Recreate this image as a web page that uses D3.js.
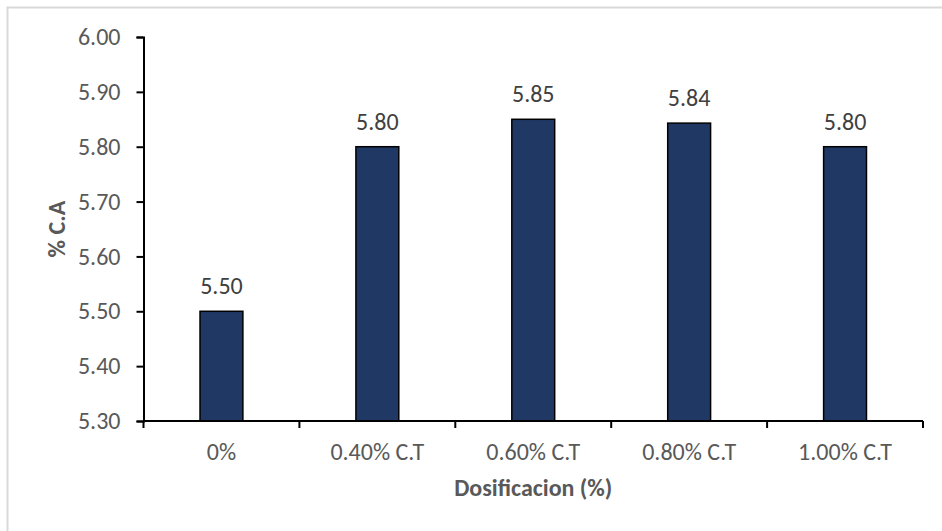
<!DOCTYPE html>
<html>
<head>
<meta charset="utf-8">
<script src="https://cdn.jsdelivr.net/npm/d3@7"></script>
<style>
  body { margin: 0; background: #fff; }
  text { font-family: Calibri, Carlito, Lato, "Open Sans", sans-serif; }
</style>
</head>
<body>
<div id="chart"></div>
<script>
// data
var categories = ["0%", "0.40% C.T", "0.60% C.T", "0.80% C.T", "1.00% C.T"];
var values = [5.50, 5.80, 5.85, 5.843, 5.80];
var valueLabels = ["5.50", "5.80", "5.85", "5.84", "5.80"];
var yTicks = [5.30, 5.40, 5.50, 5.60, 5.70, 5.80, 5.90, 6.00];

var svgWidth = 942;
var svgHeight = 531;
var margin = { top: 37, right: 19, bottom: 110, left: 143.5 };
var width = svgWidth - margin.left - margin.right;
var height = svgHeight - margin.top - margin.bottom;
var fontSize = "24px";

var svg = d3.select("#chart")
    .append("svg")
    .attr("width", svgWidth)
    .attr("height", svgHeight);

// outer chart border
svg.append("rect")
    .attr("x", 7.5)
    .attr("y", 7.5)
    .attr("width", 950)
    .attr("height", 550)
    .attr("fill", "none")
    .attr("stroke", "#d9d9d9")
    .attr("stroke-width", 2);

var chartGroup = svg.append("g")
    .attr("transform", `translate(${margin.left}, ${margin.top})`);

var xScale = d3.scaleBand()
    .domain(categories)
    .range([0, width])
    .paddingInner(0.725)
    .paddingOuter(0.3625);

var yScale = d3.scaleLinear()
    .domain([5.30, 6.00])
    .range([height, 0]);

// bars
chartGroup.selectAll("rect.bar")
    .data(values)
    .enter()
    .append("rect")
    .attr("class", "bar")
    .attr("x", (d, i) => xScale(categories[i]))
    .attr("y", d => yScale(d))
    .attr("width", xScale.bandwidth())
    .attr("height", d => height - yScale(d))
    .attr("fill", "#203864")
    .attr("stroke", "#000")
    .attr("stroke-width", 1.5);

// value labels
chartGroup.selectAll("text.val")
    .data(values)
    .enter()
    .append("text")
    .attr("class", "val")
    .attr("x", (d, i) => xScale(categories[i]) + xScale.bandwidth() / 2)
    .attr("y", d => yScale(d) - 17)
    .attr("text-anchor", "middle")
    .attr("fill", "#404040")
    .style("font-size", fontSize)
    .text((d, i) => valueLabels[i]);

// y axis
var leftAxis = d3.axisLeft(yScale)
    .tickValues(yTicks)
    .tickFormat(d3.format(".2f"))
    .tickSizeInner(7)
    .tickSizeOuter(7)
    .tickPadding(16);

var yAxisG = chartGroup.append("g").call(leftAxis);
yAxisG.select(".domain").attr("stroke", "#000").attr("stroke-width", 2);
yAxisG.selectAll(".tick line").attr("stroke", "#000").attr("stroke-width", 2);
yAxisG.selectAll(".tick text")
    .attr("fill", "#595959")
    .style("font-size", fontSize)
    .style("font-family", "Calibri, Carlito, Lato, 'Open Sans', sans-serif");

// x axis: ticks sit on band boundaries
var boundaries = categories.map(c => xScale(c) - xScale.step() * xScale.paddingInner() / 2)
    .concat([width]);
var xAxisG = chartGroup.append("g")
    .attr("transform", `translate(0, ${height})`);
xAxisG.append("line")
    .attr("x1", 0)
    .attr("x2", width)
    .attr("stroke", "#000")
    .attr("stroke-width", 2);
xAxisG.selectAll("line.tick")
    .data(boundaries)
    .enter()
    .append("line")
    .attr("class", "tick")
    .attr("x1", d => d)
    .attr("x2", d => d)
    .attr("y1", 0)
    .attr("y2", 7)
    .attr("stroke", "#000")
    .attr("stroke-width", 2);
xAxisG.selectAll("text.cat")
    .data(categories)
    .enter()
    .append("text")
    .attr("class", "cat")
    .attr("x", d => xScale(d) + xScale.bandwidth() / 2)
    .attr("y", 39)
    .attr("text-anchor", "middle")
    .attr("fill", "#595959")
    .style("font-size", fontSize)
    .text(d => d);

// axis titles
chartGroup.append("text")
    .attr("transform", `translate(${57 - margin.left}, ${height / 2}) rotate(-90)`)
    .attr("text-anchor", "middle")
    .attr("dy", "0.35em")
    .attr("fill", "#595959")
    .style("font-size", fontSize)
    .style("font-weight", "bold")
    .text("% C.A");

chartGroup.append("text")
    .attr("x", width / 2)
    .attr("y", height + 75)
    .attr("text-anchor", "middle")
    .attr("fill", "#595959")
    .style("font-size", fontSize)
    .style("font-weight", "bold")
    .text("Dosificacion (%)");
</script>
</body>
</html>
